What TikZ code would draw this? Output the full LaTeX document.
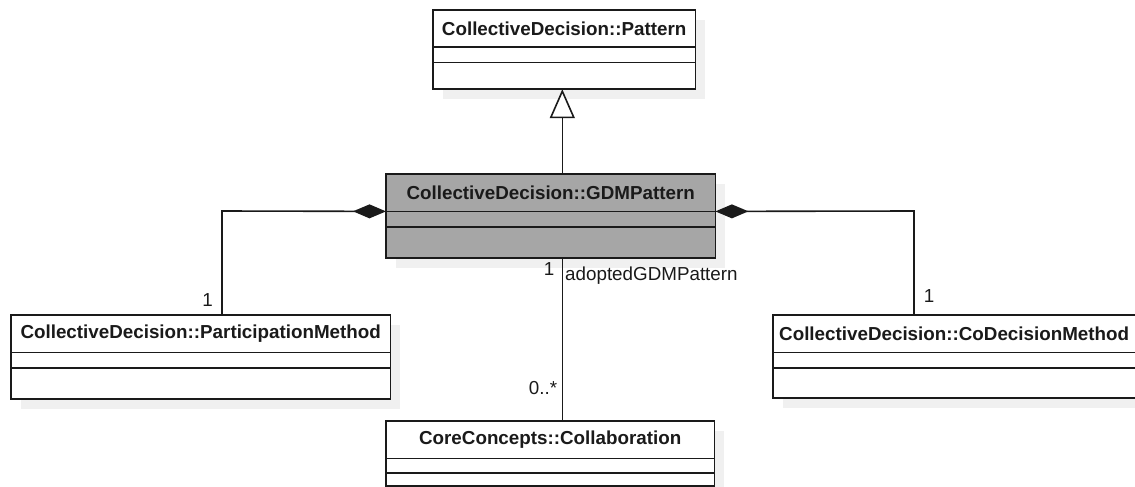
\documentclass[tikz,border=0pt]{standalone}
\usepackage{fontspec}
\setmainfont{Liberation Sans}
\usetikzlibrary{arrows.meta,backgrounds}
\definecolor{shad}{HTML}{F0F0F0}
\definecolor{gdmgray}{HTML}{A6A6A6}
\definecolor{ink}{HTML}{1A1A1A}
\begin{document}
\begin{tikzpicture}[x=1pt,y=-1pt,
  hd/.style={inner sep=0pt, anchor=north west,
    font=\fontsize{18.8}{21}\selectfont\bfseries, text=ink, minimum height=37pt},
  cp/.style={inner sep=0pt, anchor=north},
  box/.style={draw=ink, line width=1.7pt},
  sep/.style={draw=ink, line width=1.5pt},
  lbl/.style={font=\fontsize{18.8}{21}\selectfont, text=ink, inner sep=0pt},
  conn/.style={draw=ink, line width=1.6pt},
  comp/.style={conn, {Diamond[length=33pt,width=14pt]}-},
  gen/.style={conn, -{Triangle[open,length=29pt,width=25pt,fill=white]}}
]
\useasboundingbox (0,0) rectangle (1135,487);
\clip (0,0) rectangle (1135,487);

% CollectiveDecision::Pattern
\node[hd, minimum width=262pt, minimum height=36.7pt] (pat) at (433,10) {CollectiveDecision::Pattern};
\node[cp, minimum width=262pt, minimum height=15pt] (pat1) at (pat.south) {};
\node[cp, minimum width=262pt, minimum height=26.3pt] (pat2) at (pat1.south) {};

% CollectiveDecision::GDMPattern
\node[hd, minimum width=329pt] (gdm) at (386,174) {CollectiveDecision::GDMPattern};
\node[cp, minimum width=329pt, minimum height=15pt] (gdm1) at (gdm.south) {};
\node[cp, minimum width=329pt, minimum height=31pt] (gdm2) at (gdm1.south) {};

% CollectiveDecision::ParticipationMethod
\node[hd, minimum width=379pt] (par) at (11,315) {CollectiveDecision::ParticipationMethod};
\node[cp, minimum width=379pt, minimum height=15pt] (par1) at (par.south) {};
\node[cp, minimum width=379pt, minimum height=31pt] (par2) at (par1.south) {};

% CollectiveDecision::CoDecisionMethod
\node[hd, minimum width=372pt, text width=360pt, align=left] (cod) at (773,315) {CollectiveDecision::CoDecisionMethod};
\node[cp, minimum width=372pt, minimum height=15pt] (cod1) at (cod.south) {};
\node[cp, minimum width=372pt, minimum height=30pt] (cod2) at (cod1.south) {};

% CoreConcepts::Collaboration
\node[hd, minimum width=328pt, minimum height=37.3pt] (col) at (386,420.7) {CoreConcepts::Collaboration};
\node[cp, minimum width=328pt, minimum height=14pt] (col1) at (col.south) {};
\node[cp, minimum width=328pt, minimum height=13pt] (col2) at (col1.south) {};

% box fills, outlines, separators and shadows
\begin{scope}[on background layer]
  \foreach \a/\b in {pat/pat2, gdm/gdm2, par/par2, cod/cod2, col/col2}{
    \fill[shad] ([shift={(10,10)}]\a.north west) rectangle ([shift={(10,10)}]\b.south east);
  }
  \foreach \a/\b in {pat/pat2, par/par2, cod/cod2, col/col2}{
    \fill[white] (\a.north west) rectangle (\b.south east);
  }
  \fill[gdmgray] (gdm.north west) rectangle (gdm2.south east);
\end{scope}
\foreach \a/\m/\b in {pat/pat1/pat2, gdm/gdm1/gdm2, par/par1/par2, cod/cod1/cod2, col/col1/col2}{
  \draw[sep] (\a.south west) -- (\a.south east);
  \draw[sep] (\m.south west) -- (\m.south east);
  \draw[box] (\a.north west) rectangle (\b.south east);
}

% connector anchor points
\coordinate (gx) at (562.3,0);
\coordinate (lc) at (222,211);
\coordinate (rc) at (914,211);

% generalization
\draw[gen] (gdm.north -| gx) -- (pat2.south -| gx);

% compositions
\draw[comp] (gdm.south west) -- (lc) -- (par.north -| lc);
\draw[comp] (gdm.south east) -- (rc) -- (cod.north -| rc);

% association
\draw[conn] (gdm2.south -| gx) -- (col.north -| gx);

% labels
\node[lbl] (m1) at (207.7,300) {1};
\node[lbl] (m2) at (929,296) {1};
\node[lbl] (m3) at (549,269) {1};
\node[lbl, anchor=west] (role) at (565,276) {adoptedGDMPattern};
\node[lbl] (m4) at (543,388) {0..*};
\end{tikzpicture}
\end{document}
